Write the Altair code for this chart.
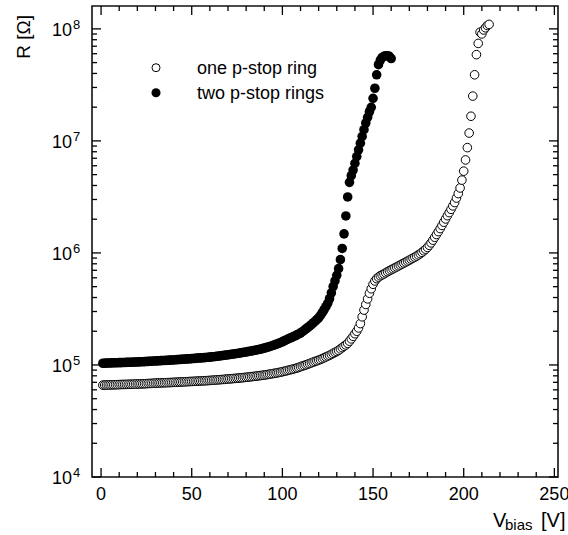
import altair as alt
import pandas as pd

FONT = "Liberation Sans"

# ---------------- data (R in kOhm, one point per volt starting at 1 V) ----------------
one_ring_kohm = [
    66.1, 66.2, 66.2, 66.3, 66.4, 66.5, 66.5, 66.6, 66.7, 66.8,
    66.9, 67.0, 67.0, 67.1, 67.2, 67.3, 67.3, 67.4, 67.5, 67.6,
    67.7, 67.8, 67.9, 68.0, 68.1, 68.3, 68.4, 68.5, 68.7, 68.9,
    69.0, 69.1, 69.2, 69.3, 69.4, 69.5, 69.6, 69.7, 69.8, 70.0,
    70.1, 70.2, 70.4, 70.5, 70.6, 70.7, 70.9, 71.0, 71.2, 71.3,
    71.4, 71.6, 71.7, 71.9, 72.0, 72.1, 72.3, 72.4, 72.6, 72.8,
    73.0, 73.2, 73.4, 73.6, 73.8, 74.0, 74.2, 74.4, 74.7, 75.0,
    75.2, 75.4, 75.7, 75.9, 76.2, 76.4, 76.7, 77.0, 77.3, 77.6,
    77.9, 78.3, 78.6, 79.0, 79.3, 79.7, 80.1, 80.5, 80.9, 81.3,
    81.8, 82.3, 82.8, 83.3, 83.9, 84.4, 85.0, 85.6, 86.3, 87.0,
    87.8, 88.6, 89.4, 90.3, 91.2, 92.0, 93.0, 94.0, 95.0, 96.5,
    97.8, 99.0, 100.3, 101.7, 103.0, 104.5, 106.0, 107.5, 109.0, 110.5,
    112, 114, 116, 118, 120, 122, 124.5, 127, 129.5, 132,
    135, 139, 143, 147, 151, 156, 163, 171, 180, 190,
    200, 214, 234, 269, 309, 347, 389, 437, 479, 525,
    562, 589, 608, 625, 638, 650, 665, 680, 694, 708,
    722, 736, 750, 765, 780, 796, 812, 828, 845, 862,
    880, 898, 917, 938, 960, 985, 1012, 1045, 1080, 1120,
    1170, 1230, 1300, 1380, 1460, 1550, 1650, 1760, 1880, 2010,
    2150, 2290, 2450, 2630, 2818, 3090, 3388, 3802, 4467, 5370,
    6761, 8710, 11750, 16600, 25120, 38900, 58880, 74130, 93330, 90160,
    97720, 102300, 107200, 109600,
]

two_rings_kohm = [
    103.6, 103.7, 103.9, 104.0, 104.2, 104.3, 104.5, 104.6, 104.8, 104.9,
    105.0, 105.2, 105.3, 105.5, 105.6, 105.8, 105.9, 106.1, 106.2, 106.4,
    106.6, 106.8, 107.0, 107.2, 107.4, 107.7, 107.9, 108.1, 108.4, 108.6,
    108.8, 109.0, 109.3, 109.5, 109.7, 110.0, 110.2, 110.4, 110.7, 110.9,
    111.2, 111.5, 111.8, 112.1, 112.4, 112.7, 113.0, 113.3, 113.6, 114.0,
    114.3, 114.6, 115.0, 115.3, 115.6, 116.0, 116.3, 116.7, 117.1, 117.5,
    118.0, 118.5, 119.0, 119.6, 120.2, 120.8, 121.4, 122.0, 122.6, 123.3,
    123.9, 124.6, 125.3, 126.0, 126.7, 127.4, 128.2, 129.0, 129.8, 130.6,
    131.5, 132.4, 133.4, 134.4, 135.4, 136.4, 137.5, 138.6, 139.9, 141.3,
    142.8, 144.4, 146.1, 147.9, 149.8, 151.8, 153.9, 156.2, 158.6, 161.0,
    164.5, 167.2, 170.0, 172.9, 175.9, 179.0, 182.2, 185.6, 189.1, 192.8,
    198, 204, 210, 216, 222, 229, 237, 245, 254, 263,
    277, 293, 311, 331, 355, 390, 440, 501, 562, 631,
    724, 871, 1096, 1479, 2138, 3162, 4266, 4898, 5495, 6310,
    7244, 8318, 9550, 10960, 12590, 14450, 16220, 18200, 19950, 23990,
    29510, 38900, 47860, 52480, 55590, 56890, 57540, 57540, 56890, 54330,
]

series_names = ["one p-stop ring", "two p-stop rings"]

x_major = [0, 50, 100, 150, 200, 250]
x_labels = ["0", "50", "100", "150", "200", "250"]
x_minor = [t for t in range(10, 251, 10) if t % 50 != 0]
y_decades = [1e4, 1e5, 1e6, 1e7, 1e8]
y_exponents = ["4", "5", "6", "7", "8"]
y_minor = [m * d for d in y_decades[:-1] for m in range(2, 10)]

x_title_parts = ["V", "bias", "[V]"]
y_title = "R [Ω]"

# ---------------- layout ----------------
W, H = 466, 471
MAJ, MIN = 9, 5
OPEN_SIZE, FILL_SIZE = 74, 92

xscale = alt.Scale(domain=[-5, 252], nice=False, zero=False)
yscale = alt.Scale(type="log", domain=[1e4, 1.6e8], nice=False)

df_one = pd.DataFrame({"V": list(range(1, len(one_ring_kohm) + 1)),
                       "R": [r * 1e3 for r in one_ring_kohm]})
df_two = pd.DataFrame({"V": list(range(1, len(two_rings_kohm) + 1)),
                       "R": [r * 1e3 for r in two_rings_kohm]})

open_pts = alt.Chart(df_one).mark_point(
    shape="circle", filled=True, fill="white", stroke="black",
    strokeWidth=1, size=OPEN_SIZE, opacity=1, fillOpacity=1, strokeOpacity=1
).encode(
    x=alt.X("V:Q", scale=xscale, axis=None),
    y=alt.Y("R:Q", scale=yscale, axis=None),
)

filled_pts = alt.Chart(df_two).mark_circle(size=FILL_SIZE, color="black", opacity=1).encode(
    x=alt.X("V:Q", scale=xscale, axis=None),
    y=alt.Y("R:Q", scale=yscale, axis=None),
)

def x_ticks(vals, L):
    d = pd.DataFrame({"t": vals})
    bot = alt.Chart(d).mark_rule(color="black", strokeWidth=1.3).encode(
        x=alt.X("t:Q", scale=xscale, axis=None), y=alt.value(H), y2=alt.value(H - L))
    top = alt.Chart(d).mark_rule(color="black", strokeWidth=1.3).encode(
        x=alt.X("t:Q", scale=xscale, axis=None), y=alt.value(0), y2=alt.value(L))
    return [bot, top]

def y_ticks(vals, L):
    d = pd.DataFrame({"t": vals})
    left = alt.Chart(d).mark_rule(color="black", strokeWidth=1.3).encode(
        y=alt.Y("t:Q", scale=yscale, axis=None), x=alt.value(0), x2=alt.value(L))
    right = alt.Chart(d).mark_rule(color="black", strokeWidth=1.3).encode(
        y=alt.Y("t:Q", scale=yscale, axis=None), x=alt.value(W), x2=alt.value(W - L))
    return [left, right]

tick_layers = (x_ticks(x_major, MAJ) + x_ticks(x_minor, MIN)
               + y_ticks(y_decades, MAJ) + y_ticks(y_minor, MIN))

# x tick labels
xlab = alt.Chart(pd.DataFrame({"t": x_major, "lab": x_labels})).mark_text(
    align="center", baseline="top", font=FONT, fontSize=18, color="black"
).encode(x=alt.X("t:Q", scale=xscale, axis=None), y=alt.value(H + 9), text="lab:N")

# y tick labels 10^n
ylab_df = pd.DataFrame({"R": y_decades, "base": ["10"] * len(y_decades), "exp": y_exponents})
ylab_base = alt.Chart(ylab_df).mark_text(
    align="right", baseline="middle", font=FONT, fontSize=18, color="black", dy=2
).encode(y=alt.Y("R:Q", scale=yscale, axis=None), x=alt.value(-20), text="base:N")
ylab_exp = alt.Chart(ylab_df).mark_text(
    align="left", baseline="middle", font=FONT, fontSize=13, color="black", dy=-4
).encode(y=alt.Y("R:Q", scale=yscale, axis=None), x=alt.value(-19), text="exp:N")

# y title
ytitle = alt.Chart(pd.DataFrame({"t": [y_title]})).mark_text(
    angle=270, align="right", baseline="middle", font=FONT, fontSize=19, color="black"
).encode(x=alt.value(-68), y=alt.value(9), text="t:N")

# x title V_bias [V]
xt_df = pd.DataFrame({"t": x_title_parts})
xt_v = alt.Chart(xt_df.iloc[[0]]).mark_text(
    align="left", baseline="alphabetic", font=FONT, fontSize=20, color="black"
).encode(x=alt.value(401), y=alt.value(520.5), text="t:N")
xt_sub = alt.Chart(xt_df.iloc[[1]]).mark_text(
    align="left", baseline="alphabetic", font=FONT, fontSize=15, color="black"
).encode(x=alt.value(413), y=alt.value(524), text="t:N")
xt_unit = alt.Chart(xt_df.iloc[[2]]).mark_text(
    align="left", baseline="alphabetic", font=FONT, fontSize=20, color="black"
).encode(x=alt.value(449), y=alt.value(520.5), text="t:N")

# legend
leg_open = alt.Chart(pd.DataFrame({"s": [series_names[0]]})).mark_point(
    shape="circle", filled=True, fill="white", stroke="black", strokeWidth=1,
    size=OPEN_SIZE - 10, opacity=1
).encode(x=alt.value(64), y=alt.value(61.7))
leg_fill = alt.Chart(pd.DataFrame({"s": [series_names[1]]})).mark_circle(
    size=FILL_SIZE - 10, color="black", opacity=1
).encode(x=alt.value(64), y=alt.value(86.7))
leg_t1 = alt.Chart(pd.DataFrame({"s": [series_names[0]]})).mark_text(
    align="left", baseline="middle", font=FONT, fontSize=18, color="black"
).encode(x=alt.value(105), y=alt.value(62.5), text="s:N")
leg_t2 = alt.Chart(pd.DataFrame({"s": [series_names[1]]})).mark_text(
    align="left", baseline="middle", font=FONT, fontSize=18, color="black"
).encode(x=alt.value(105), y=alt.value(87.5), text="s:N")

chart = alt.layer(
    open_pts, filled_pts, *tick_layers, xlab, ylab_base, ylab_exp, ytitle,
    xt_v, xt_sub, xt_unit, leg_open, leg_fill, leg_t1, leg_t2
).properties(
    width=W, height=H,
    autosize=alt.AutoSizeParams(type="none"),
    padding={"left": 92, "top": 6, "right": 10, "bottom": 58},
    background="white",
).configure_view(stroke="#111111", strokeWidth=1.6)

chart.save("out.html", embed_options={"renderer": "svg", "actions": False})
